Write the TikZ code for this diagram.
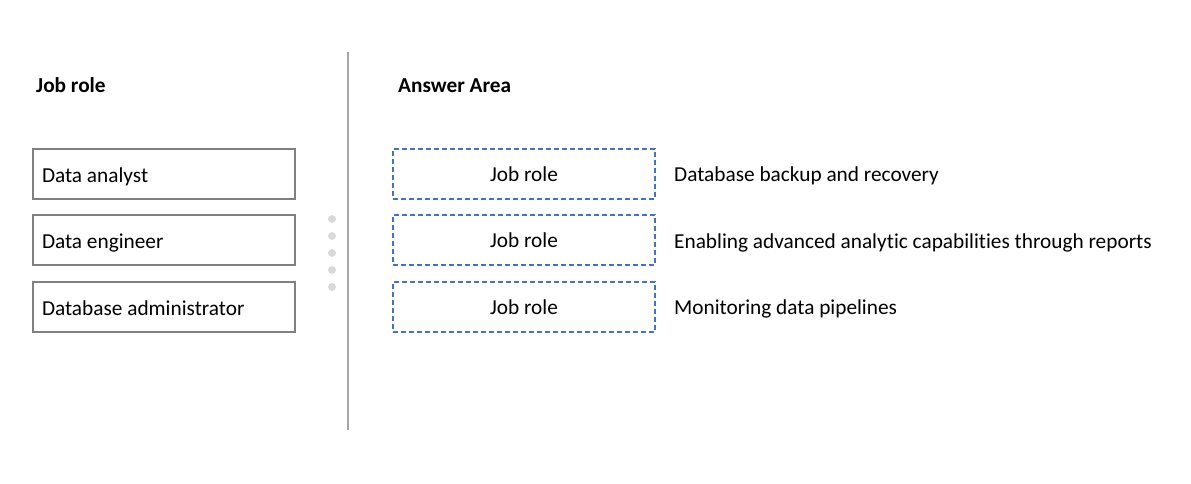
\documentclass[tikz,border=0pt]{standalone}
\usepackage{fontspec}
\setmainfont{Carlito}[Ligatures=NoCommon]
\usetikzlibrary{positioning}
\definecolor{boxgray}{RGB}{128,128,128}
\definecolor{linegray}{RGB}{166,166,166}
\definecolor{dotgray}{RGB}{217,217,217}
\definecolor{answerblue}{RGB}{68,114,196}
\begin{document}
\begin{tikzpicture}[
  x = 1pt, y = -1pt,
  every node/.style = {font = \fontsize{21.3}{25}\selectfont, inner sep = 0pt},
  rolebox/.style = {draw = boxgray, line width = 2pt, minimum width = 262pt,
                    minimum height = 50pt, text width = 244pt, align = flush left,
                    text height = 19pt, text depth = 3pt},
  slotbox/.style = {draw = answerblue, line width = 1.6pt,
                    dash pattern = on 5pt off 3pt,
                    minimum width = 262pt, minimum height = 50pt},
  heading/.style = {font = \fontsize{21.3}{25}\selectfont\bfseries, anchor = base west},
  task/.style = {anchor = base west}
  ]
  \useasboundingbox (0,0) rectangle (1191,483);
  \node[heading] (left head) at (36,92) {Job role};
  \node[heading] (right head) at (398,92) {Answer Area};
  \node[rolebox] (analyst) at (164,174) {Data analyst};
  \node[rolebox] (engineer) at (164,240) {Data engineer};
  \node[rolebox] (admin) at (164,307) {Database administrator};
  \draw[linegray, line width = 2pt] (348,52) -- (348,430);
  \foreach \y in {219,236,253,270,287}
    \fill[dotgray] (332,\y) circle (4);
  \node[slotbox] (slot one) at (524,174) {Job role};
  \node[slotbox] (slot two) at (524,240) {Job role};
  \node[slotbox] (slot three) at (524,307) {Job role};
  \node[task] (backup) at (674,181) {Database backup and recovery};
  \node[task] (reports) at (674,248) {Enabling advanced analytic capabilities through reports};
  \node[task] (pipelines) at (674,314) {Monitoring data pipelines};
\end{tikzpicture}
\end{document}
